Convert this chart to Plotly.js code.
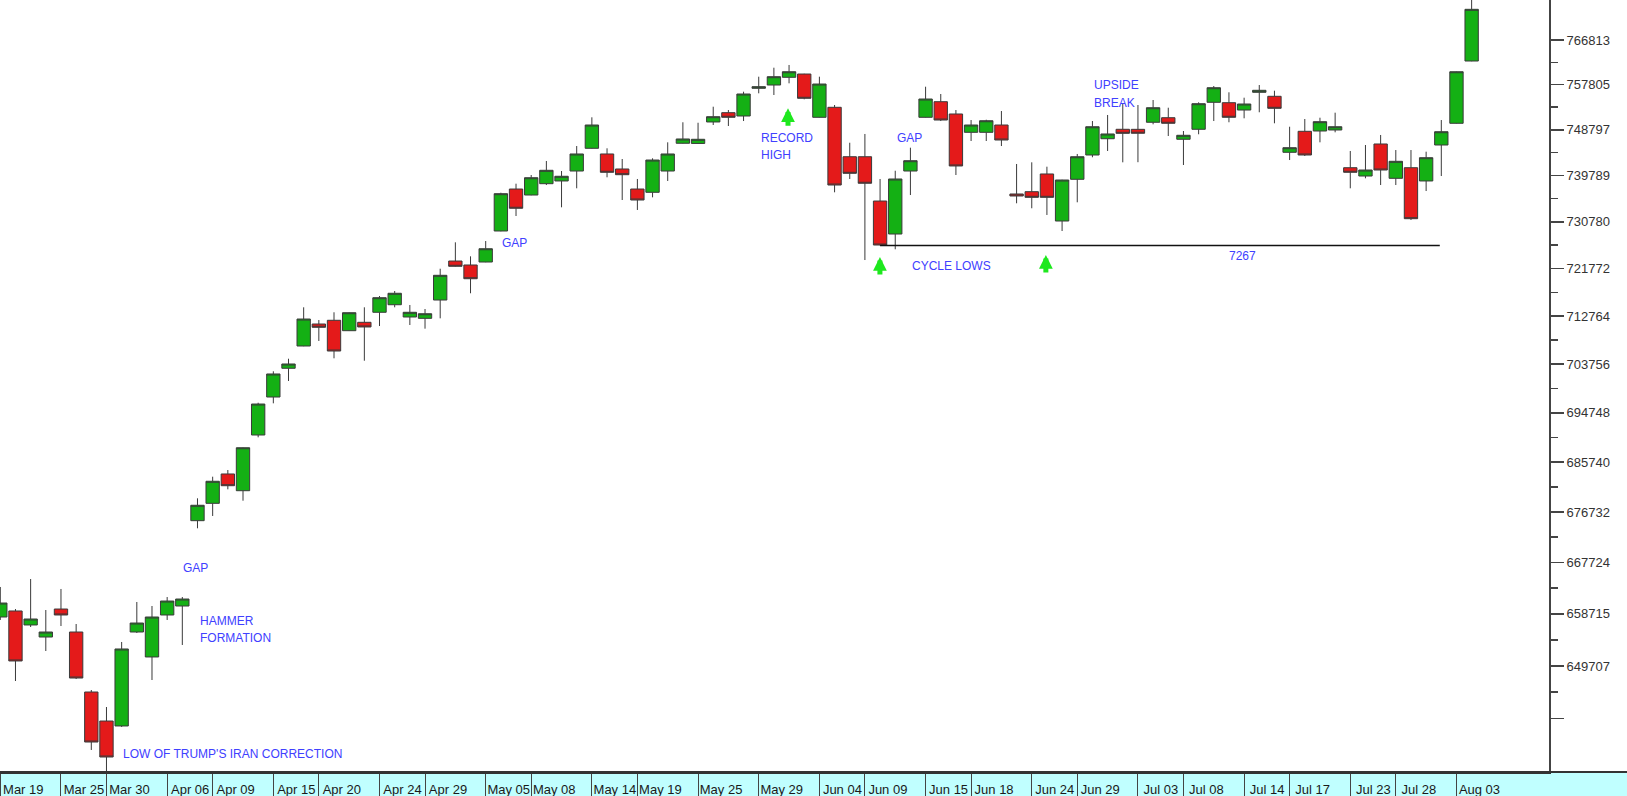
<!DOCTYPE html>
<html>
<head>
<meta charset="utf-8">
<script src="https://cdn.plot.ly/plotly-3.0.1.min.js"></script>
<style>
  html, body { margin: 0; padding: 0; background: #ffffff; }
  #chart { width: 1627px; height: 796px; }
</style>
</head>
<body>
<div id="chart"></div>
<script>
// ---- trading days (category labels) ----
const dates = [
  "Mar 19","Mar 20","Mar 23","Mar 24","Mar 25","Mar 26","Mar 27","Mar 30","Mar 31","Apr 01",
  "Apr 02","Apr 06","Apr 07","Apr 08","Apr 09","Apr 10","Apr 13","Apr 14","Apr 15","Apr 16",
  "Apr 17","Apr 20","Apr 21","Apr 22","Apr 23","Apr 24","Apr 27","Apr 28","Apr 29","Apr 30",
  "May 01","May 04","May 05","May 06","May 07","May 08","May 11","May 12","May 13","May 14",
  "May 15","May 18","May 19","May 20","May 21","May 22","May 25","May 26","May 27","May 28",
  "May 29","Jun 01","Jun 02","Jun 03","Jun 04","Jun 05","Jun 08","Jun 09","Jun 10","Jun 11",
  "Jun 12","Jun 15","Jun 16","Jun 17","Jun 18","Jun 19","Jun 22","Jun 23","Jun 24","Jun 25",
  "Jun 26","Jun 29","Jun 30","Jul 01","Jul 02","Jul 03","Jul 06","Jul 07","Jul 08","Jul 09",
  "Jul 10","Jul 13","Jul 14","Jul 15","Jul 16","Jul 17","Jul 20","Jul 21","Jul 22","Jul 23",
  "Jul 24","Jul 27","Jul 28","Jul 29","Jul 30","Jul 31","Aug 03","Aug 04"
];

// ---- OHLC series ----
const openVals = [
  658180,659230,656790,654700,659570,655570,645240,640300,639460,655570,
  651250,658530,660100,675180,678290,683580,680560,690670,697650,702980,
  707140,711270,711970,710010,711590,713480,714910,712590,712340,715800,
  723230,722470,723040,729000,737150,735980,738190,738720,740670,745140,
  744020,741070,737150,736510,740670,746130,746100,750350,752200,751540,
  757070,757730,759280,759940,751280,753270,743480,743480,734810,728420,
  740670,751280,754390,751940,748300,748300,749750,736180,736630,740090,
  730930,739050,743820,747030,748900,748890,750290,751200,746920,748900,
  754270,754190,752730,756270,755470,744350,748500,748560,748760,741320,
  739690,745990,739240,741320,738720,745790,750090,762560
];
const highVals = [
  663430,659570,664830,659400,663080,656960,645580,642680,653840,660800,
  660100,661670,661670,679190,683090,684300,688400,696600,702420,704760,
  714420,712020,713480,713450,714420,716560,717510,714860,714100,721760,
  726820,724130,727070,736430,738190,739890,742640,740670,745590,751280,
  745140,743030,739110,743170,746320,750290,750200,753390,752730,756390,
  759400,761210,761760,759990,759400,753730,746240,747970,739110,740730,
  745260,757390,755930,752730,750740,750800,752530,742050,742380,741520,
  738960,744020,750540,751740,754070,753730,754730,753190,748560,754270,
  757530,756270,755190,757730,756590,749410,750940,751200,752200,744610,
  745790,747770,744800,744800,744470,750740,760450,775390
];
const lowVals = [
  657660,647120,656440,652280,656610,647460,635410,631880,639300,655400,
  647290,657660,653320,673820,676020,680810,678760,690250,696490,700620,
  707100,708080,704840,709950,704390,710890,714420,711080,710390,712340,
  722150,717080,723000,728950,731900,735930,737930,733590,737290,745080,
  739440,735010,733070,735530,738720,746080,746080,749750,749550,750540,
  756070,755730,758070,754870,751230,736510,739110,723420,726250,725480,
  735980,751230,750540,739890,746580,746580,745590,734370,733400,732100,
  729000,734560,743370,744610,742380,742400,749890,747570,741850,747910,
  750540,750290,751080,752280,750090,742830,743620,746320,748300,737290,
  739240,737930,737930,731130,736760,739690,750040,762510
];
const closeVals = [
  660620,650560,657830,655570,658530,647630,636750,634230,652630,657130,
  658180,660970,661320,677940,682260,681460,688350,696360,701920,703780,
  712210,710650,706200,713400,710710,716240,717080,713480,713210,720500,
  722220,719850,725590,736240,733400,739360,740810,739640,744020,749750,
  740420,739950,735010,742830,744020,746980,746920,751400,751280,755930,
  757390,759400,760400,755070,757930,737930,740220,738270,726300,739110,
  742700,754930,750740,741660,749750,750600,746780,735790,735530,735530,
  738910,743480,749410,747970,748100,748110,753190,750090,747710,753990,
  757190,751280,753930,756670,753070,745260,743820,750410,749410,740420,
  740870,740870,742580,731380,743290,748420,760400,773070
];

// ---- axis ticks ----
const xTickDates = ["Mar 19","Mar 25","Mar 30","Apr 06","Apr 09","Apr 15","Apr 20","Apr 24","Apr 29",
  "May 05","May 08","May 14","May 19","May 25","May 29","Jun 04","Jun 09","Jun 15","Jun 18",
  "Jun 24","Jun 29","Jul 03","Jul 08","Jul 14","Jul 17","Jul 23","Jul 28","Aug 03"];
const yTickVals = [640699,649707,658715,667724,676732,685740,694748,703756,712764,721772,730780,739789,748797,757805,766813];
const yTickText = ["","649707","658715","667724","676732","685740","694748","703756","712764","721772","730780","739789","748797","757805","766813"];
const yMinorVals = [645203,654211,663220,672228,681236,690244,699252,708260,717268,726276,735285,744293,753301,762309];

// ---- support line (7267) ----
const supportLevel = 726200;
const supportFrom = "Jun 10";
const supportTo = "Jul 30";

// ---- text notes: [text, x (trading-day index), value, anchor] ----
const noteTexts  = ["GAP","HAMMER","FORMATION","LOW OF TRUMP'S IRAN CORRECTION","GAP","RECORD","HIGH","GAP","CYCLE LOWS","7267","UPSIDE","BREAK"];
const noteX      = [11.91, 13.03, 13.03, 7.96, 32.96, 50.0, 50.0, 58.96, 59.97, 81.92, 72.0, 72.0];
const noteY      = [666772, 657569, 654530, 634818, 726784, 747213, 743759, 747213, 722353, 724134, 757672, 754229];
const noteAnchor = ["left","left","left","left","left","left","left","left","left","center","left","left"];

// ---- green arrows: [x index, tip value] ----
const arrowX = [51.93, 57.99, 68.93];
const arrowY = [753072, 724000, 724383];

const xIdx = dates.map((d, i) => i);
const L10 = Math.log10;

const candle = {
  type: 'candlestick',
  x: xIdx, open: openVals, high: highVals, low: lowVals, close: closeVals,
  increasing: { line: { color: '#3a3a3a', width: 1 }, fillcolor: '#14b014' },
  decreasing: { line: { color: '#3a3a3a', width: 1 }, fillcolor: '#e41a1a' },
  whiskerwidth: 0,
  hoverinfo: 'skip',
  showlegend: false
};

const support = {
  type: 'scatter', mode: 'lines',
  x: [dates.indexOf(supportFrom), dates.indexOf(supportTo) + 0.9],
  y: [supportLevel, supportLevel],
  line: { color: '#111111', width: 1.5 },
  hoverinfo: 'skip', showlegend: false
};

const font = 'Arial, "Liberation Sans", sans-serif';
const annotations = [];
noteTexts.forEach((t, i) => {
  annotations.push({
    x: noteX[i], y: L10(noteY[i]), xref: 'x', yref: 'y',
    text: t, showarrow: false, xanchor: noteAnchor[i], yanchor: 'middle',
    font: { family: font, size: 12, color: '#4040ff' }
  });
});
arrowX.forEach((ax, i) => {
  annotations.push({
    x: ax, y: L10(arrowY[i]), xref: 'x', yref: 'y',
    text: '', showarrow: true, ax: 0, ay: 19,
    arrowhead: 2, arrowsize: 0.55, arrowwidth: 5, arrowcolor: '#1ee81e',
    standoff: 0, startstandoff: 0
  });
});

const W = 1627, H = 796, ML = 0, MR = 78, MT = 0, MB = 24;
const plotW = W - ML - MR, plotH = H - MT - MB;

const layout = {
  width: W, height: H,
  margin: { l: ML, r: MR, t: MT, b: MB, pad: 0 },
  paper_bgcolor: '#ffffff', plot_bgcolor: '#ffffff',
  showlegend: false,
  boxgap: 0.12, boxgroupgap: 0,
  xaxis: {
    type: 'linear',
    range: [-0.02, 102.1],
    tickvals: xTickDates.map(d => dates.indexOf(d)),
    ticktext: xTickDates,
    ticks: 'outside', ticklen: 24, tickwidth: 1, tickcolor: '#444444',
    ticklabelshift: 23, ticklabelstandoff: -20,
    tickfont: { family: font, size: 13, color: '#1a1a1a' },
    showline: true, linecolor: '#333333', linewidth: 2,
    showgrid: false, zeroline: false,
    rangeslider: { visible: false },
    fixedrange: true
  },
  yaxis: {
    type: 'log', side: 'right',
    range: [5.800522, 5.889290],
    tickvals: yTickVals, ticktext: yTickText,
    ticks: 'outside', ticklen: 13, tickwidth: 1.5, tickcolor: '#444444',
    minor: { tickvals: yMinorVals, ticks: 'outside', ticklen: 7, tickwidth: 1.5, tickcolor: '#444444' },
    tickfont: { family: font, size: 13, color: '#333333' },
    showline: true, linecolor: '#444444', linewidth: 2,
    showgrid: false, zeroline: false, fixedrange: true
  },
  shapes: [
    { type: 'rect', xref: 'paper', yref: 'paper', x0: 0, x1: W / plotW, y0: -MB / plotH, y1: 0,
      fillcolor: '#c0ffff', line: { width: 0 }, layer: 'below' },
    { type: 'line', xref: 'paper', yref: 'paper', x0: 0, x1: W / plotW, y0: 0, y1: 0,
      line: { color: '#333333', width: 2 } }
  ],
  annotations: annotations
};

Plotly.newPlot('chart', [candle, support], layout, { displayModeBar: false, staticPlot: true });
</script>
</body>
</html>
